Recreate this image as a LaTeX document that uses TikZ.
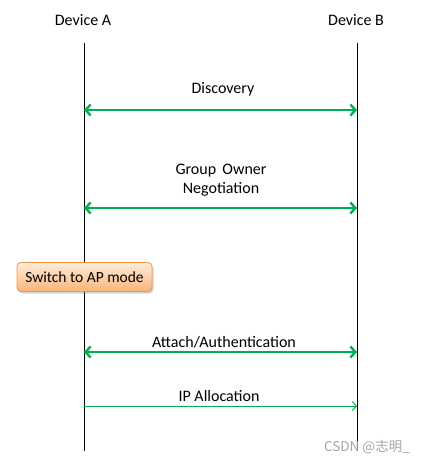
\documentclass[tikz,border=0pt]{standalone}
\usepackage{fontspec}
\setmainfont{Carlito}
\newfontfamily\cjkfont{Noto Sans CJK SC}
\usetikzlibrary{arrows.meta}
\usetikzlibrary{shadows}
\usetikzlibrary{positioning}

\definecolor{msggreen}{RGB}{0,176,80}
\definecolor{boxedge}{RGB}{240,150,70}
\definecolor{boxtop}{RGB}{255,236,220}
\definecolor{boxbottom}{RGB}{250,180,120}

\tikzset{
  lifeline/.style={draw=black, line width=1pt},
  message/.style={draw=msggreen, line width=2.4pt, {Straight Barb[length=5pt,width=11pt]}-{Straight Barb[length=5pt,width=11pt]}},
  oneway/.style={draw=msggreen, line width=0.9pt, -{Straight Barb[length=4pt,width=9pt]}},
  msglabel/.style={font=\fontsize{16}{19}\selectfont, align=center, inner sep=0pt},
  modebox/.style={rounded corners=4pt, draw=boxedge, line width=0.8pt, top color=boxtop, bottom color=boxbottom,
    drop shadow={shadow xshift=1.5pt, shadow yshift=-2pt, opacity=0.35}, minimum width=135pt, minimum height=29pt,
    font=\fontsize{15.5}{17}\selectfont, inner sep=0pt}
}

\begin{document}
\begin{tikzpicture}[x=1pt, y=-1pt]
  \useasboundingbox (0,0) rectangle (425,462);
  % devices
  \node[msglabel] (devA) at (83,20)  {Device A};
  \node[msglabel] (devB) at (356,20) {Device B};
  \coordinate (a_top) at (84,43);  \coordinate (a_bot) at (84,451);
  \coordinate (b_top) at (357,43); \coordinate (b_bot) at (357,451);
  \draw[lifeline] (a_top) -- (a_bot);
  \draw[lifeline] (b_top) -- (b_bot);

  % message end points
  \coordinate (a_1) at (84,110); \coordinate (b_1) at (357,110);
  \coordinate (a_2) at (84,208); \coordinate (b_2) at (357,208);
  \coordinate (a_3) at (84,352); \coordinate (b_3) at (357,352);
  \coordinate (a_4) at (84,406); \coordinate (b_4) at (357,406);

  \path[message] (a_1) -- (b_1);
  \node[msglabel] (disc) at (223,89) {Discovery};
  \path[message] (a_2) -- (b_2);
  \node[msglabel] (gon) at (221,180.5) {Group\, Owner\\ Negotiation};
  \path[message] (a_3) -- (b_3);
  \node[msglabel] (auth) at (224,342) {Attach/Authentication};
  \path[oneway] (a_4) -- (b_4);
  \node[msglabel] (ipalloc) at (219,396) {IP Allocation};

  % mode switch
  \node[modebox] (apmode) at (84.5,277) {Switch to AP mode};

  % watermark
  \node[font=\fontsize{13.5}{15}\selectfont\cjkfont, text=black!35, inner sep=0pt, anchor=east] (mark) at (410,447) {CSDN @志明\_};
\end{tikzpicture}
\end{document}
